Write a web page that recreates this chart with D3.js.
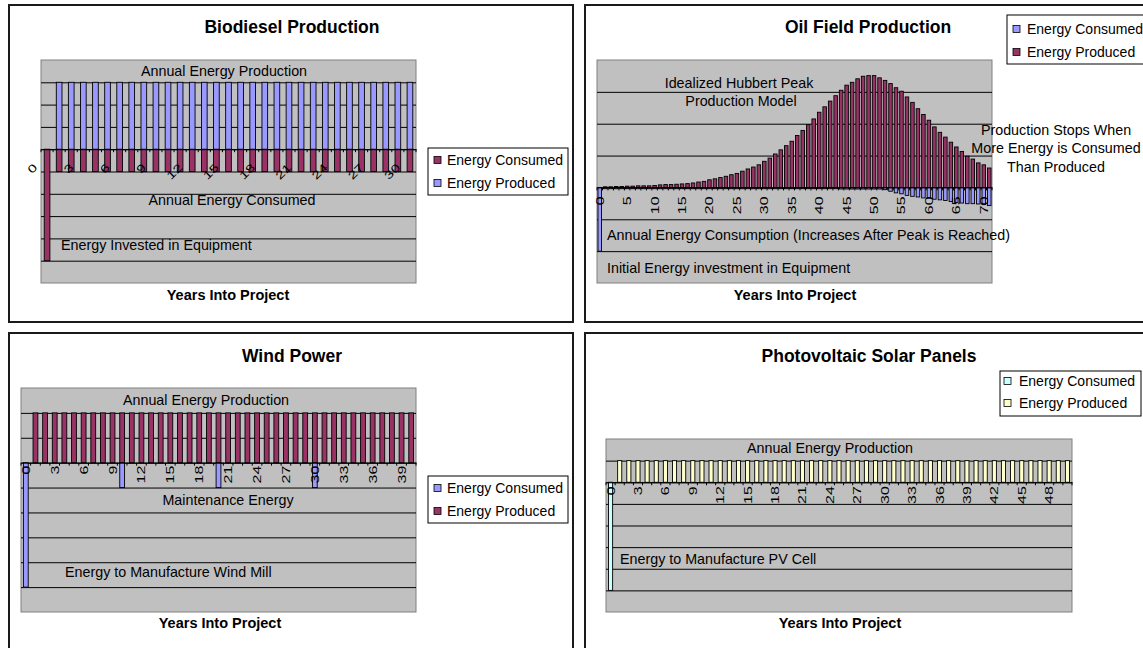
<!DOCTYPE html>
<html>
<head>
<meta charset="utf-8">
<script src="https://cdn.jsdelivr.net/npm/d3@7"></script>
<style>
  body { margin: 0; background: #fff; }
  svg { display: block; font-family: "Liberation Sans", Arial, sans-serif; }
</style>
</head>
<body>
<div id="chart"></div>
<script>
// ---- Data (values in gridline units) ----

// Biodiesel
const bioYears = [0,1,2,3,4,5,6,7,8,9,10,11,12,13,14,15,16,17,18,19,20,21,22,23,24,25,26,27,28,29,30];
const bioConsumed = [-5,-1,-1,-1,-1,-1,-1,-1,-1,-1,-1,-1,-1,-1,-1,-1,-1,-1,-1,-1,-1,-1,-1,-1,-1,-1,-1,-1,-1,-1,-1];
const bioProduced = [0,3,3,3,3,3,3,3,3,3,3,3,3,3,3,3,3,3,3,3,3,3,3,3,3,3,3,3,3,3,3];
const bioTickLabels = [0,3,6,9,12,15,18,21,24,27,30];

// Oil field (Hubbert peak)
const oilYears = [0,1,2,3,4,5,6,7,8,9,10,11,12,13,14,15,16,17,18,19,20,21,22,23,24,25,26,27,28,29,30,
  31,32,33,34,35,36,37,38,39,40,41,42,43,44,45,46,47,48,49,50,51,52,53,54,55,56,57,58,59,60,
  61,62,63,64,65,66,67,68,69,70,71];
const oilConsumed = [-2,
  -0.04,-0.04,-0.04,-0.04,-0.04,-0.04,-0.04,-0.04,-0.04,-0.04,
  -0.04,-0.04,-0.04,-0.04,-0.04,-0.04,-0.04,-0.04,-0.04,-0.04,
  -0.04,-0.04,-0.04,-0.04,-0.04,-0.04,-0.04,-0.04,-0.04,-0.04,
  -0.04,-0.04,-0.04,-0.04,-0.04,-0.04,-0.04,-0.04,-0.04,-0.04,
  -0.04,-0.04,-0.04,-0.05,-0.05,-0.05,-0.05,-0.05,-0.05,-0.05,-0.05,
  -0.07,-0.12,-0.17,-0.20,-0.25,-0.28,-0.30,-0.33,-0.33,-0.37,
  -0.39,-0.41,-0.44,-0.47,-0.49,-0.51,-0.51,-0.52,-0.54,-0.57];
const oilProduced = [0,
  0.02,0.02,0.03,0.03,0.04,0.04,0.05,0.05,0.05,0.06,
  0.08,0.09,0.09,0.10,0.11,0.12,0.14,0.17,0.19,0.24,
  0.27,0.31,0.35,0.40,0.44,0.51,0.58,0.64,0.71,0.82,
  0.92,1.05,1.18,1.31,1.45,1.63,1.79,1.97,2.15,2.36,
  2.53,2.71,2.88,3.05,3.21,3.30,3.41,3.49,3.51,3.51,
  3.44,3.36,3.26,3.13,3.02,2.84,2.67,2.47,2.29,2.11,
  1.90,1.73,1.58,1.42,1.27,1.13,0.98,0.89,0.77,0.71,0.61];
const oilTickLabels = [0,5,10,15,20,25,30,35,40,45,50,55,60,65,70];

// Wind power
const windYears = [0,1,2,3,4,5,6,7,8,9,10,11,12,13,14,15,16,17,18,19,20,
  21,22,23,24,25,26,27,28,29,30,31,32,33,34,35,36,37,38,39,40];
const windConsumed = [-5,0,0,0,0,0,0,0,0,0,-1,0,0,0,0,0,0,0,0,0,-1,
  0,0,0,0,0,0,0,0,0,-1,0,0,0,0,0,0,0,0,0,0];
const windProduced = [0,2,2,2,2,2,2,2,2,2,2,2,2,2,2,2,2,2,2,2,2,
  2,2,2,2,2,2,2,2,2,2,2,2,2,2,2,2,2,2,2,2];
const windTickLabels = [0,3,6,9,12,15,18,21,24,27,30,33,36,39];

// Photovoltaic
const pvYears = [0,1,2,3,4,5,6,7,8,9,10,11,12,13,14,15,16,17,18,19,20,21,22,23,24,25,
  26,27,28,29,30,31,32,33,34,35,36,37,38,39,40,41,42,43,44,45,46,47,48,49,50];
const pvConsumed = [-5,0,0,0,0,0,0,0,0,0,0,0,0,0,0,0,0,0,0,0,0,0,0,0,0,0,
  0,0,0,0,0,0,0,0,0,0,0,0,0,0,0,0,0,0,0,0,0,0,0,0,0];
const pvProduced = [0,1,1,1,1,1,1,1,1,1,1,1,1,1,1,1,1,1,1,1,1,1,1,1,1,1,
  1,1,1,1,1,1,1,1,1,1,1,1,1,1,1,1,1,1,1,1,1,1,1,1,1];
const pvTickLabels = [0,3,6,9,12,15,18,21,24,27,30,33,36,39,42,45,48];

// ---- Style ----
const BLUE = '#9999FF', MAROON = '#993366', CYAN = '#CCFFFF', CREAM = '#FFFFCC';
const PLOT_BG = '#C0C0C0';
const FONT = '"Liberation Sans", Arial, sans-serif';

const svg = d3.select('#chart').append('svg')
  .attr('width', 1143)
  .attr('height', 648);

const panels = [
  {
    title: 'Biodiesel Production', titleX: 292, titleY: 33,
    frame: [9, 5, 564, 317],
    plot: [41, 60, 416, 283], yDomain: [-6, 4],
    years: bioYears, tickLabels: bioTickLabels, diag: true, barFrac: 0.47,
    series: [
      {name: 'Energy Consumed', values: bioConsumed, color: MAROON},
      {name: 'Energy Produced', values: bioProduced, color: BLUE}
    ],
    legend: {x: 428, y: 148, w: 140, h: 47, rows: [160, 183], sx: 434, tx: 447},
    xTitleX: 228, xTitleY: 300,
    notes: [
      {text: 'Annual Energy Production', x: 224, y: 76, anchor: 'middle'},
      {text: 'Annual Energy Consumed', x: 232, y: 205, anchor: 'middle'},
      {text: 'Energy Invested in Equipment', x: 61, y: 250, anchor: 'start'}
    ]
  },
  {
    title: 'Oil Field Production', titleX: 868, titleY: 33,
    frame: [585, 5, 566, 317],
    plot: [597, 60, 992, 283], yDomain: [-3, 4],
    years: oilYears, tickLabels: oilTickLabels, diag: false, labelGap: 9, barFrac: 0.64,
    series: [
      {name: 'Energy Consumed', values: oilConsumed, color: BLUE},
      {name: 'Energy Produced', values: oilProduced, color: MAROON}
    ],
    legend: {x: 1007, y: 15, w: 145, h: 49, rows: [29, 52], sx: 1013, tx: 1027},
    xTitleX: 795, xTitleY: 300,
    notes: [
      {text: 'Idealized Hubbert Peak', x: 739, y: 88, anchor: 'middle'},
      {text: 'Production Model', x: 741, y: 106, anchor: 'middle'},
      {text: 'Production Stops When', x: 1056, y: 135, anchor: 'middle'},
      {text: 'More Energy is Consumed', x: 1056, y: 153, anchor: 'middle'},
      {text: 'Than Produced', x: 1056, y: 172, anchor: 'middle'},
      {text: 'Annual Energy Consumption (Increases After Peak is Reached)', x: 607, y: 240, anchor: 'start'},
      {text: 'Initial Energy investment in Equipment', x: 607, y: 273, anchor: 'start'}
    ]
  },
  {
    title: 'Wind Power', titleX: 292, titleY: 362,
    frame: [9, 333, 564, 317],
    plot: [21, 388, 416, 612], yDomain: [-6, 3],
    years: windYears, tickLabels: windTickLabels, diag: false, labelGap: 3, barFrac: 0.5,
    series: [
      {name: 'Energy Consumed', values: windConsumed, color: BLUE},
      {name: 'Energy Produced', values: windProduced, color: MAROON}
    ],
    legend: {x: 428, y: 476, w: 140, h: 47, rows: [488, 511], sx: 434, tx: 447},
    xTitleX: 220, xTitleY: 628,
    notes: [
      {text: 'Annual Energy Production', x: 206, y: 405, anchor: 'middle'},
      {text: 'Maintenance Energy', x: 228, y: 505, anchor: 'middle'},
      {text: 'Energy to Manufacture Wind Mill', x: 65, y: 577, anchor: 'start'}
    ]
  },
  {
    title: 'Photovoltaic Solar Panels', titleX: 869, titleY: 362,
    frame: [585, 333, 566, 317],
    plot: [606, 439, 1072, 612], yDomain: [-6, 2],
    years: pvYears, tickLabels: pvTickLabels, diag: false, labelGap: 4, barFrac: 0.45,
    series: [
      {name: 'Energy Consumed', values: pvConsumed, color: CYAN},
      {name: 'Energy Produced', values: pvProduced, color: CREAM}
    ],
    legend: {x: 1000, y: 371, w: 141, h: 45, rows: [381, 403], sx: 1004, tx: 1019},
    xTitleX: 840, xTitleY: 628,
    notes: [
      {text: 'Annual Energy Production', x: 830, y: 453, anchor: 'middle'},
      {text: 'Energy to Manufacture PV Cell', x: 620, y: 564, anchor: 'start'}
    ]
  }
];

function drawPanel(p) {
  const g = svg.append('g');

  // Outer frame
  g.append('rect')
    .attr('x', p.frame[0]).attr('y', p.frame[1])
    .attr('width', p.frame[2]).attr('height', p.frame[3])
    .attr('fill', '#fff').attr('stroke', '#1a1a1a').attr('stroke-width', 2);

  // Title
  g.append('text')
    .attr('x', p.titleX).attr('y', p.titleY)
    .attr('text-anchor', 'middle')
    .attr('font-weight', 'bold').attr('font-size', 17.5)
    .text(p.title);

  // Scales
  const [x0, y0, x1, y1] = p.plot;
  const x = d3.scaleBand().domain(p.years).range([x0, x1]);
  const y = d3.scaleLinear().domain(p.yDomain).range([y1, y0]);

  // Plot area
  g.append('rect')
    .attr('x', x0).attr('y', y0)
    .attr('width', x1 - x0).attr('height', y1 - y0)
    .attr('fill', PLOT_BG).attr('stroke', '#808080');

  // Gridlines
  const gridValues = y.ticks(20).filter(v => Number.isInteger(v) && v > p.yDomain[0] && v < p.yDomain[1]);
  const grid = g.append('g')
    .attr('transform', `translate(${x0},0)`)
    .call(d3.axisLeft(y).tickValues(gridValues).tickSize(-(x1 - x0)).tickFormat(''));
  grid.select('.domain').remove();
  grid.selectAll('line').attr('stroke', '#000');

  // Bars (stacked around zero)
  const bw = x.bandwidth() * p.barFrac;
  const off = (x.bandwidth() - bw) / 2;
  p.series.forEach(s => {
    const rows = p.years.map((yr, i) => ({yr, v: s.values[i]})).filter(d => d.v !== 0);
    g.append('g').selectAll('rect')
      .data(rows)
      .join('rect')
      .attr('x', d => x(d.yr) + off)
      .attr('width', bw)
      .attr('y', d => y(Math.max(0, d.v)))
      .attr('height', d => Math.abs(y(d.v) - y(0)))
      .attr('fill', s.color)
      .attr('stroke', '#000')
      .attr('stroke-width', 0.9);
  });

  // Category axis with labels
  const axis = g.append('g')
    .attr('transform', `translate(0,${y(0)})`)
    .call(d3.axisBottom(x).tickValues(p.tickLabels).tickSize(0).tickPadding(0));
  axis.select('.domain').attr('stroke', '#000');
  axis.selectAll('text')
    .attr('font-size', 11).attr('font-family', FONT).attr('fill', '#000')
    .attr('text-anchor', 'end')
    .attr('y', 0).attr('dy', 0)
    .attr('transform', p.diag
      ? 'translate(-9,19) rotate(-45) scale(1.4,1)'
      : `translate(4,${p.labelGap}) rotate(-90) scale(1.45,1)`);

  // Tick marks at category boundaries
  const bounds = p.years.map(yr => x(yr)).concat([x1]);
  g.append('g').selectAll('line')
    .data(bounds)
    .join('line')
    .attr('x1', d => d).attr('x2', d => d)
    .attr('y1', y(0)).attr('y2', y(0) + 3)
    .attr('stroke', '#000');

  // Annotations
  p.notes.forEach(n => {
    g.append('text')
      .attr('x', n.x).attr('y', n.y)
      .attr('text-anchor', n.anchor)
      .attr('font-size', 14.3)
      .text(n.text);
  });

  // Axis title
  g.append('text')
    .attr('x', p.xTitleX).attr('y', p.xTitleY)
    .attr('text-anchor', 'middle')
    .attr('font-weight', 'bold').attr('font-size', 14.5)
    .text('Years Into Project');

  // Legend
  const L = p.legend;
  g.append('rect')
    .attr('x', L.x).attr('y', L.y).attr('width', L.w).attr('height', L.h)
    .attr('fill', '#fff').attr('stroke', '#000');
  p.series.forEach((s, i) => {
    g.append('rect')
      .attr('x', L.sx).attr('y', L.rows[i] - 3.5)
      .attr('width', 7).attr('height', 7)
      .attr('fill', s.color).attr('stroke', '#000').attr('stroke-width', 0.8);
    g.append('text')
      .attr('x', L.tx).attr('y', L.rows[i] + 5)
      .attr('font-size', 14)
      .text(s.name);
  });
}

panels.forEach(drawPanel);
</script>
</body>
</html>
